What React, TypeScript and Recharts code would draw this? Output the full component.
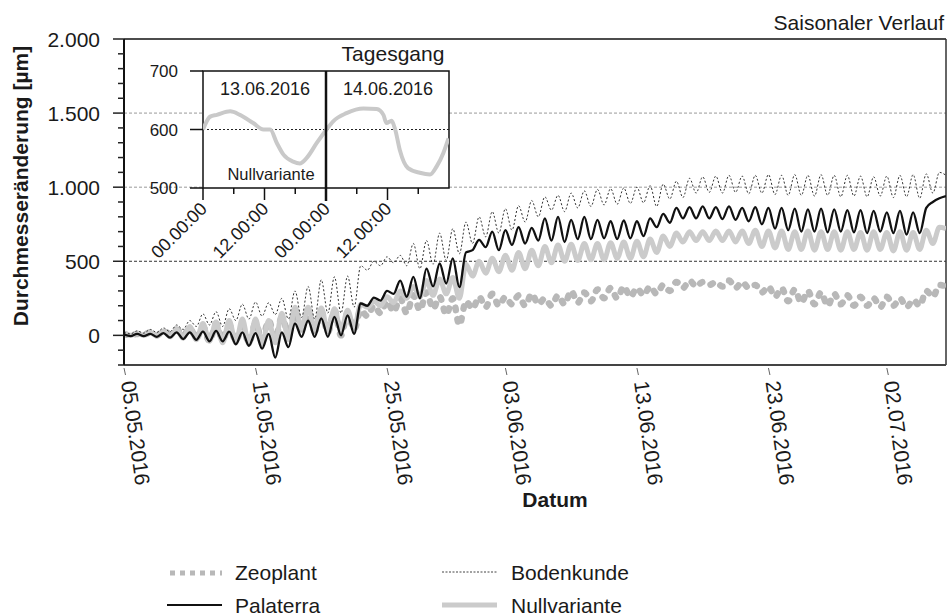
import React from "react";
import {
  LineChart,
  Line,
  XAxis,
  YAxis,
  ReferenceLine,
  ReferenceArea,
  CartesianGrid,
} from "recharts";

const FONT = '"Liberation Sans", Arial, Helvetica, sans-serif';

// two readings per day (max / min), days after 05.05.2016
const halfDays = Array.from({ length: 126 }, (_, i) => i / 2);

const zeoplant = [
  10, 0, 10, 5, 20, 0, 30, 10, 40, 0,
  50, -20, 60, -40, 80, -30, 70, -40, 60, -50,
  80, -30, 100, -20, 120, 20, 150, 40, 140, 30,
  160, 20, 170, 0, 150, 40, 170, 130, 200, 150,
  230, 160, 250, 150, 270, 170, 290, 180, 260, 140,
  250, 70, 230, 180, 260, 190, 280, 200, 260, 210,
  270, 200, 280, 210, 250, 200, 270, 210, 300, 220,
  290, 230, 310, 250, 320, 250, 330, 260, 320, 270,
  330, 280, 340, 300, 360, 320, 370, 330, 360, 340,
  360, 330, 370, 320, 360, 320, 340, 290, 330, 260,
  320, 230, 310, 220, 300, 210, 290, 200, 280, 210,
  270, 200, 260, 200, 250, 190, 260, 200, 250, 190,
  240, 200, 300, 260, 340, 330,
];

const palaterra = [
  5, -5, 10, -5, 10, -10, 15, -15, 20, -25,
  20, -30, 25, -40, 30, -40, 25, -60, 20, -70,
  15, -90, 10, -150, 20, -80, 80, -10, 100, -10,
  115, -10, 125, 0, 135, 10, 215, 200, 255, 235,
  300, 280, 370, 260, 395, 250, 450, 330, 485, 350,
  520, 325, 560, 575, 645, 595, 700, 575, 710, 610,
  730, 620, 725, 640, 790, 640, 800, 630, 780, 650,
  800, 650, 780, 655, 770, 650, 775, 655, 770, 670,
  790, 730, 820, 760, 860, 790, 865, 790, 870, 790,
  865, 785, 870, 780, 860, 770, 865, 750, 860, 720,
  860, 710, 855, 700, 850, 700, 855, 695, 850, 700,
  845, 695, 845, 690, 840, 700, 830, 690, 840, 680,
  830, 690, 860, 900, 925, 940,
];

const bodenkunde = [
  20, 10, 30, 15, 40, 20, 50, 25, 70, 40,
  100, 60, 145, 70, 160, 60, 180, 100, 210, 110,
  225, 130, 220, 140, 250, 110, 300, 120, 330, 110,
  375, 150, 395, 150, 400, 190, 470, 440, 500, 470,
  530, 490, 540, 470, 620, 450, 640, 480, 690, 505,
  720, 550, 765, 620, 800, 665, 835, 690, 855, 710,
  875, 765, 910, 800, 935, 845, 945, 835, 960, 860,
  975, 870, 985, 880, 990, 885, 995, 890, 1000, 895,
  1010, 870, 1020, 920, 1040, 930, 1060, 960, 1070, 965,
  1075, 960, 1080, 965, 1075, 955, 1080, 960, 1085, 950,
  1080, 945, 1085, 945, 1080, 940, 1085, 945, 1080, 935,
  1080, 940, 1075, 935, 1070, 940, 1075, 930, 1080, 935,
  1085, 925, 1090, 960, 1100, 1080,
];

const nullvariante = [
  10, 0, 15, 0, 20, -5, 30, -10, 40, -20,
  60, -30, 80, -40, 90, -50, 100, -50, 110, -60,
  110, -60, 100, -50, 150, -30, 190, 50, 190, 40,
  185, 30, 180, 30, 170, 50, 210, 190, 230, 200,
  260, 220, 300, 250, 330, 260, 370, 270, 380, 280,
  390, 250, 480, 400, 500, 420, 520, 430, 540, 440,
  560, 450, 575, 470, 600, 490, 610, 500, 615, 505,
  620, 510, 620, 510, 625, 520, 630, 520, 635, 530,
  650, 560, 670, 600, 690, 630, 700, 640, 700, 640,
  705, 640, 705, 630, 705, 620, 710, 600, 705, 590,
  705, 580, 700, 580, 705, 575, 700, 580, 700, 575,
  700, 580, 695, 575, 700, 580, 695, 570, 700, 575,
  695, 580, 710, 620, 730, 720,
];

const dateTicks = [0, 10, 20, 29, 39, 49, 58];
const dateLabels = [
  "05.05.2016",
  "15.05.2016",
  "25.05.2016",
  "03.06.2016",
  "13.06.2016",
  "23.06.2016",
  "02.07.2016",
];
const yTicks = [
  -200, -100, 0, 100, 200, 300, 400, 500, 600, 700, 800, 900, 1000, 1100,
  1200, 1300, 1400, 1500, 1600, 1700, 1800, 1900, 2000,
];

// Tagesgang inset: Nullvariante, hours since 13.06.2016 00:00
const insetHours = [
  0, 1.4, 2.7, 5.3, 7.2, 9.8, 11.8, 13.1, 14.4, 15.7, 17.6, 18.9, 20.2, 22.2,
  24.1, 25.4, 28, 31.3, 33.9, 35.2, 35.8, 36.8, 37.5, 38.4, 40, 42.3, 44.3,
  45.6, 46.9, 47.9,
];
const insetValues = [
  600, 622, 625, 631, 625, 611, 600, 600, 577, 557, 545, 542, 551, 577, 600,
  614, 628, 636, 635, 625, 611, 615, 600, 565, 534, 526, 523, 537, 560, 585,
];
const insetTicks = [0, 6, 12, 18, 24, 30, 36, 42];
const insetTickLabels: Record<number, string> = {
  0: "00.00:00",
  12: "12.00:00",
  24: "00.00:00",
  36: "12.00:00",
};

const rows = halfDays.map((t, i) => ({
  t,
  zeoplant: zeoplant[i],
  palaterra: palaterra[i],
  bodenkunde: bodenkunde[i],
  nullvariante: nullvariante[i],
}));

const insetRows = insetHours.map((h, i) => ({ h, v: insetValues[i] }));

const fmt = (v: number) =>
  v >= 1000 ? `${Math.floor(v / 1000)}.${String(v % 1000).padStart(3, "0")}` : String(v);

const ValueTick = (props: any) => {
  const { x, y, payload } = props;
  const v = payload.value;
  const major = v % 500 === 0;
  return (
    <g>
      <line x1={x - (major ? 11 : 6)} x2={x} y1={y} y2={y} stroke="#222" strokeWidth={1.5} />
      {major && (
        <text x={x - 24} y={y} dy="0.36em" textAnchor="end" fontSize={21} fill="#1a1a1a" fontFamily={FONT}>
          {fmt(v)}
        </text>
      )}
    </g>
  );
};

const DateTick = (props: any) => {
  const { x, y, payload } = props;
  const i = dateTicks.indexOf(payload.value);
  return (
    <g>
      <line x1={x} y1={y + 3} x2={x + 1.5} y2={y + 10} stroke="#666" strokeWidth={1} />
      <text
        transform={`translate(${x - 3},${y + 17}) rotate(82)`}
        fontSize={21}
        fill="#1a1a1a"
        fontFamily={FONT}
      >
        {dateLabels[i]}
      </text>
    </g>
  );
};

const InsetValueTick = (props: any) => {
  const { x, y, payload } = props;
  return (
    <g>
      <line x1={x - 13} x2={x} y1={y} y2={y} stroke="#111" strokeWidth={1.5} />
      <text x={x - 25} y={y} dy="0.36em" textAnchor="end" fontSize={17} fill="#1a1a1a" fontFamily={FONT}>
        {payload.value}
      </text>
    </g>
  );
};

const InsetTimeTick = (props: any) => {
  const { x, y, payload } = props;
  const v = payload.value;
  const major = v % 12 === 0;
  return (
    <g>
      <line
        x1={x}
        x2={x}
        y1={y}
        y2={y + (v === 24 ? 13 : major ? 12 : 6)}
        stroke="#111"
        strokeWidth={v === 24 ? 2.5 : 1.5}
      />
      {major && (
        <text
          transform={`translate(${x + 5},${y + 22}) rotate(-45)`}
          textAnchor="end"
          fontSize={18}
          fill="#1a1a1a"
          fontFamily={FONT}
        >
          {insetTickLabels[v]}
        </text>
      )}
    </g>
  );
};

const Inset = () => (
  <LineChart
    width={460}
    height={270}
    data={insetRows}
    margin={{ top: 71, right: 11, bottom: 12, left: 143 }}
  >
    <CartesianGrid fill="#fff" horizontal={false} vertical={false} />
    <XAxis
      type="number"
      dataKey="h"
      domain={[0, 48]}
      ticks={insetTicks}
      interval={0}
      height={70}
      tickSize={0}
      tickMargin={0}
      tickLine={false}
      axisLine={false}
      tick={(p: any) => <InsetTimeTick {...p} />}
      allowDataOverflow
    />
    <YAxis
      type="number"
      domain={[500, 700]}
      ticks={[500, 600, 700]}
      interval={0}
      width={60}
      tickSize={0}
      tickMargin={0}
      tickLine={false}
      axisLine={false}
      tick={(p: any) => <InsetValueTick {...p} />}
      allowDataOverflow
    />
    <ReferenceLine y={600} stroke="#222" strokeDasharray="2 2" strokeWidth={1} />
    <Line
      dataKey="v"
      type="monotone"
      stroke="#c9c9c9"
      strokeWidth={4}
      dot={false}
      activeDot={false}
      isAnimationActive={false}
    />
    <ReferenceLine x={24} stroke="#111" strokeWidth={2.5} />
    <ReferenceArea x1={0} x2={48} y1={500} y2={700} fill="none" stroke="#111" strokeWidth={1.5} />
  </LineChart>
);

export default function App() {
  return (
    <div style={{ position: "relative", width: 947, height: 616, background: "#fff", fontFamily: FONT }}>
      <style>{"body{margin:0}"}</style>
      <LineChart
        width={947}
        height={616}
        data={rows}
        margin={{ top: 39, right: 1, bottom: 111, left: 64 }}
      >
        <XAxis
          type="number"
          dataKey="t"
          domain={[0, 62.5]}
          ticks={dateTicks}
          interval={0}
          height={140}
          tickSize={0}
          tickMargin={0}
          tickLine={false}
          axisLine={{ stroke: "#444", strokeWidth: 2 }}
          tick={(p: any) => <DateTick {...p} />}
          allowDataOverflow
        />
        <YAxis
          type="number"
          domain={[-200, 2000]}
          ticks={yTicks}
          interval={0}
          width={60}
          tickSize={0}
          tickMargin={0}
          tickLine={false}
          axisLine={{ stroke: "#111", strokeWidth: 2 }}
          tick={(p: any) => <ValueTick {...p} />}
          allowDataOverflow
        />
        <ReferenceLine y={500} stroke="#333" strokeDasharray="3 2" strokeWidth={1} />
        <ReferenceLine y={1000} stroke="#999" strokeDasharray="3 2" strokeWidth={1} />
        <ReferenceLine y={1500} stroke="#999" strokeDasharray="3 2" strokeWidth={1} />
        <ReferenceLine y={2000} stroke="#111" strokeWidth={1.5} />
        <ReferenceLine x={62.5} stroke="#333" strokeWidth={1.5} />
        <Line
          dataKey="zeoplant"
          type="monotone"
          stroke="#b8b8b8"
          strokeWidth={6.5}
          strokeDasharray="2.5 9"
          strokeLinecap="round"
          dot={false}
          activeDot={false}
          isAnimationActive={false}
        />
        <Line
          dataKey="nullvariante"
          type="monotone"
          stroke="#cbcbcb"
          strokeWidth={5}
          dot={false}
          activeDot={false}
          isAnimationActive={false}
        />
        <Line
          dataKey="bodenkunde"
          type="monotone"
          stroke="#333"
          strokeWidth={1}
          strokeDasharray="2 2"
          dot={false}
          activeDot={false}
          isAnimationActive={false}
        />
        <Line
          dataKey="palaterra"
          type="monotone"
          stroke="#111"
          strokeWidth={2.3}
          dot={false}
          activeDot={false}
          isAnimationActive={false}
        />
      </LineChart>

      <div style={{ position: "absolute", left: 0, top: 0 }}>
        <Inset />
      </div>

      <svg
        width={947}
        height={616}
        style={{ position: "absolute", left: 0, top: 0, pointerEvents: "none" }}
        fontFamily={FONT}
        fill="#1a1a1a"
      >
        <text x={944} y={30} textAnchor="end" fontSize={21}>
          Saisonaler Verlauf
        </text>
        <text transform="translate(28,186) rotate(-90)" textAnchor="middle" fontSize={21} fontWeight="bold">
          Durchmesseränderung [µm]
        </text>
        <text x={555} y={507} textAnchor="middle" fontSize={21} fontWeight="bold">
          Datum
        </text>

        <text x={393} y={61} textAnchor="middle" fontSize={21}>
          Tagesgang
        </text>
        <text x={265} y={95} textAnchor="middle" fontSize={18}>
          13.06.2016
        </text>
        <text x={388} y={95} textAnchor="middle" fontSize={18}>
          14.06.2016
        </text>
        <text x={271} y={180} textAnchor="middle" fontSize={16.5}>
          Nullvariante
        </text>

        <line x1={170} x2={222} y1={573} y2={573} stroke="#b8b8b8" strokeWidth={5} strokeDasharray="5 5" />
        <text x={235} y={580} fontSize={21}>Zeoplant</text>
        <line x1={167} x2={222} y1={605} y2={605} stroke="#111" strokeWidth={2} />
        <text x={235} y={613} fontSize={21}>Palaterra</text>
        <line x1={442} x2={497} y1={572} y2={572} stroke="#444" strokeWidth={1} strokeDasharray="2 1.5" />
        <text x={511} y={580} fontSize={21}>Bodenkunde</text>
        <line x1={442} x2={497} y1={605} y2={605} stroke="#cbcbcb" strokeWidth={5} />
        <text x={511} y={613} fontSize={21}>Nullvariante</text>
      </svg>
    </div>
  );
}
